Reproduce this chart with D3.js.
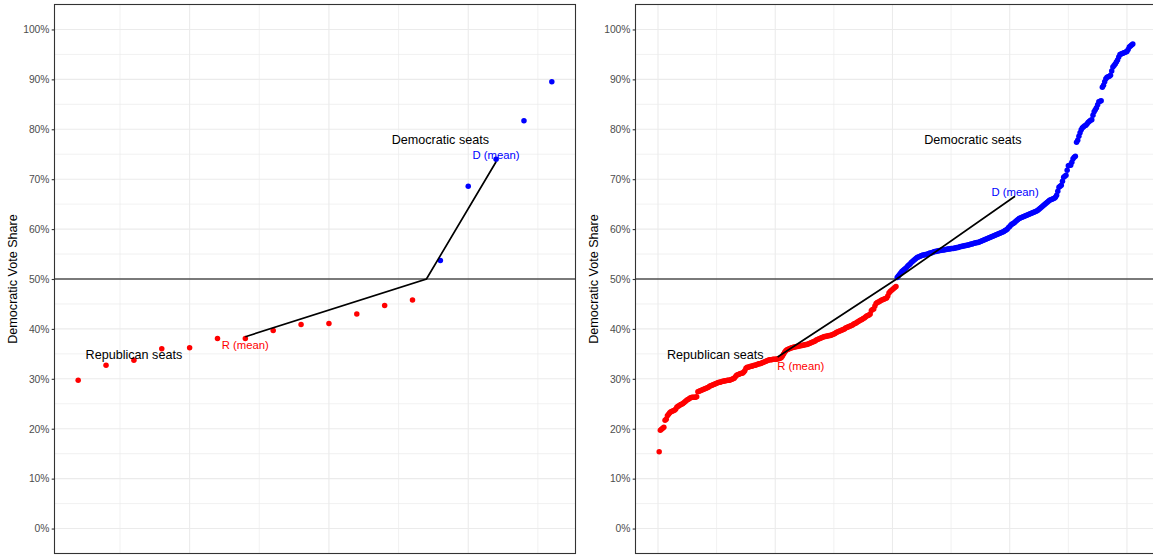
<!DOCTYPE html>
<html>
<head>
<meta charset="utf-8">
<script src="https://cdn.jsdelivr.net/npm/d3@7"></script>
<style>
  html, body { margin: 0; padding: 0; background: #ffffff; }
  svg { display: block; }
  text { font-family: "Liberation Sans", Arial, Helvetica, sans-serif; }
</style>
</head>
<body>
<svg id="chart" width="1153" height="556"></svg>
<script>
// ---------------- DATA ----------------
// Left panel: a small example with 18 seats (Democratic vote share, %)
const leftRep = [29.7, 32.7, 33.7, 36.0, 36.2, 38.1, 38.1, 39.7, 40.9, 41.1, 43.0, 44.7, 45.8];
const leftDem = [53.7, 68.6, 74.0, 81.7, 89.5];

// Right panel: all contested seats, sorted by Democratic vote share (%)
const rightRep = [
  15.4, 19.7, 19.9, 20.1, 20.3, 21.7, 21.9, 22.6, 22.9, 23.2,
  23.4, 23.5, 23.6, 23.7, 23.9, 24.3, 24.5, 24.6, 24.8, 24.9,
  25.0, 25.2, 25.4, 25.6, 25.8, 25.9, 26.1, 26.2, 26.3, 26.3,
  26.3, 26.3, 26.4, 27.4, 27.5, 27.6, 27.7, 27.8, 27.9, 28.0,
  28.1, 28.2, 28.3, 28.5, 28.6, 28.7, 28.8, 28.9, 29.0, 29.1,
  29.2, 29.3, 29.3, 29.4, 29.5, 29.5, 29.6, 29.6, 29.7, 29.7,
  29.7, 29.8, 29.9, 30.0, 30.1, 30.4, 30.7, 30.8, 30.9, 31.0,
  31.1, 31.1, 31.3, 31.6, 32.1, 32.3, 32.3, 32.4, 32.5, 32.5,
  32.6, 32.7, 32.7, 32.8, 32.9, 33.0, 33.0, 33.1, 33.2, 33.3,
  33.4, 33.5, 33.6, 33.7, 33.8, 33.8, 33.8, 33.9, 33.9, 33.9,
  33.9, 34.0, 34.0, 34.1, 34.2, 34.5, 34.9, 35.3, 35.6, 35.8,
  35.9, 36.0, 36.1, 36.2, 36.3, 36.4, 36.4, 36.5, 36.5, 36.6,
  36.6, 36.7, 36.7, 36.8, 36.8, 36.9, 36.9, 37.0, 37.1, 37.2,
  37.3, 37.4, 37.5, 37.6, 37.8, 37.9, 38.0, 38.1, 38.2, 38.3,
  38.4, 38.5, 38.5, 38.6, 38.6, 38.7, 38.7, 38.8, 38.9, 39.0,
  39.1, 39.3, 39.4, 39.5, 39.6, 39.7, 39.8, 39.9, 40.0, 40.2,
  40.3, 40.4, 40.5, 40.6, 40.7, 40.8, 41.0, 41.1, 41.2, 41.4,
  41.5, 41.7, 41.8, 41.9, 42.1, 42.2, 42.4, 42.6, 42.7, 42.8,
  43.0, 43.7, 43.9, 44.0, 44.6, 45.1, 45.3, 45.4, 45.5, 45.7,
  45.8, 45.9, 46.0, 46.1, 46.2, 46.6, 47.2, 47.5, 47.7, 47.9,
  48.1, 48.3, 48.5
];
const rightDem = [
  50.3, 50.6, 50.9, 51.2, 51.5, 51.7, 51.9, 52.1, 52.3, 52.6,
  52.8, 53.0, 53.3, 53.5, 53.7, 53.9, 54.1, 54.3, 54.4, 54.5,
  54.6, 54.7, 54.8, 54.8, 54.9, 54.9, 55.0, 55.1, 55.2, 55.2,
  55.3, 55.4, 55.5, 55.5, 55.6, 55.6, 55.7, 55.7, 55.8, 55.8,
  55.8, 55.9, 55.9, 56.0, 56.0, 56.0, 56.1, 56.1, 56.1, 56.2,
  56.2, 56.3, 56.3, 56.4, 56.5, 56.5, 56.6, 56.6, 56.7, 56.7,
  56.8, 56.8, 56.9, 57.0, 57.0, 57.1, 57.2, 57.2, 57.3, 57.3,
  57.4, 57.5, 57.6, 57.7, 57.8, 57.9, 58.0, 58.1, 58.2, 58.3,
  58.4, 58.5, 58.6, 58.7, 58.8, 58.9, 59.0, 59.1, 59.2, 59.3,
  59.4, 59.5, 59.7, 59.8, 60.0, 60.3, 60.5, 60.8, 61.0, 61.1,
  61.3, 61.5, 61.7, 61.9, 62.1, 62.2, 62.3, 62.4, 62.5, 62.6,
  62.7, 62.8, 62.9, 63.0, 63.1, 63.2, 63.3, 63.4, 63.5, 63.6,
  63.8, 64.0, 64.2, 64.4, 64.6, 64.8, 65.0, 65.2, 65.4, 65.6,
  65.8, 65.9, 66.0, 66.1, 66.2, 66.4, 66.8, 67.6, 68.4, 68.6,
  68.8, 69.6, 70.4, 70.6, 70.8, 71.8, 72.7, 72.8, 72.8, 73.4,
  74.1, 74.4, 74.6, 77.4, 77.8, 78.6, 79.3, 79.9, 80.3, 80.5,
  80.7, 80.8, 81.1, 81.4, 81.6, 81.8, 81.9, 82.8, 83.5, 83.9,
  84.3, 84.9, 85.5, 85.6, 85.7, 88.4, 88.8, 89.5, 90.1, 90.4,
  90.5, 90.6, 90.8, 91.7, 92.5, 92.8, 93.1, 93.5, 93.9, 94.5,
  95.0, 95.1, 95.2, 95.3, 95.4, 95.5, 95.6, 96.0, 96.5, 96.7,
  96.9, 97.1
];

// Axis ticks (percent)
const yTicks = [0, 10, 20, 30, 40, 50, 60, 70, 80, 90, 100];
const yMinor = [5, 15, 25, 35, 45, 55, 65, 75, 85, 95];
const leftXMajor = [5, 10, 15];
const leftXMinor = [2.5, 7.5, 12.5, 17.5];
const rightXMajor = [0, 100, 200, 300, 400];
const rightXMinor = [50, 150, 250, 350];

// Annotation texts and their anchor positions (seat rank, vote share %)
const labelTexts  = ["Republican seats", "Democratic seats", "R (mean)", "D (mean)"];
const labelColors = ["#000000", "#000000", "#FF0000", "#0000FF"];
const leftLabelX  = [3, 14, 7, 16];
const leftLabelY  = [34.8, 77.9, 36.7, 74.9];
const rightLabelX = [48.9, 268.6, 121.7, 304.6];
const rightLabelY = [34.8, 77.9, 32.5, 67.5];

const yTitle = "Democratic Vote Share";

// ---------------- DRAWING ----------------
const svg = d3.select("#chart");
const panelTop = 4.5, panelBottom = 553.5;
const y = d3.scaleLinear().domain([-5, 105]).range([panelBottom, panelTop]);

function drawPanel(opts) {
  const { x0, x1, rep, dem, xMajor, xMinor, labX, labY } = opts;
  const n = rep.length + dem.length;
  const pad = 0.05 * (n - 1);
  const x = d3.scaleLinear().domain([1 - pad, n + pad]).range([x0, x1]);
  const g = svg.append("g");

  const clipId = "clip" + Math.round(x0);
  svg.append("clipPath").attr("id", clipId)
    .append("rect").attr("x", x0).attr("y", panelTop).attr("width", x1 - x0).attr("height", panelBottom - panelTop);
  const pg = g.append("g").attr("clip-path", `url(#${clipId})`);

  // grid minor
  pg.selectAll(".ymin").data(yMinor).join("line")
    .attr("x1", x0).attr("x2", x1).attr("y1", d => y(d)).attr("y2", d => y(d))
    .attr("stroke", "#EBEBEB").attr("stroke-width", 0.7);
  pg.selectAll(".xmin").data(xMinor).join("line")
    .attr("x1", d => x(d)).attr("x2", d => x(d)).attr("y1", panelTop).attr("y2", panelBottom)
    .attr("stroke", "#EBEBEB").attr("stroke-width", 0.7);
  // grid major
  pg.selectAll(".ymaj").data(yTicks).join("line")
    .attr("x1", x0).attr("x2", x1).attr("y1", d => y(d)).attr("y2", d => y(d))
    .attr("stroke", "#EBEBEB").attr("stroke-width", 1.1);
  pg.selectAll(".xmaj").data(xMajor).join("line")
    .attr("x1", d => x(d)).attr("x2", d => x(d)).attr("y1", panelTop).attr("y2", panelBottom)
    .attr("stroke", "#EBEBEB").attr("stroke-width", 1.1);

  // 50% line
  pg.append("line").attr("x1", x0).attr("x2", x1).attr("y1", y(50)).attr("y2", y(50))
    .attr("stroke", "#000").attr("stroke-width", 1.1);

  // points
  const pts = rep.map((v, i) => ({ i: i + 1, v, c: "#FF0000" }))
    .concat(dem.map((v, i) => ({ i: rep.length + i + 1, v, c: "#0000FF" })));
  pg.selectAll(".pt").data(pts).join("circle")
    .attr("cx", d => x(d.i)).attr("cy", d => y(d.v)).attr("r", 2.75)
    .attr("fill", d => d.c);

  // mean segments
  const repMid = (1 + rep.length) / 2;
  const demMid = rep.length + (1 + dem.length) / 2;
  const segs = [[repMid, d3.mean(rep)], [rep.length + 0.5, 50], [demMid, d3.mean(dem)]];
  pg.append("path").datum(segs)
    .attr("d", d3.line().x(d => x(d[0])).y(d => y(d[1])))
    .attr("fill", "none").attr("stroke", "#000").attr("stroke-width", 1.7);

  // labels
  labelTexts.forEach((t, k) => {
    pg.append("text").attr("x", x(labX[k])).attr("y", y(labY[k])).attr("dy", "0.35em")
      .attr("text-anchor", "middle")
      .attr("font-size", k < 2 ? 12.6 : 11.3)
      .attr("fill", labelColors[k]).text(t);
  });

  // border
  g.append("rect").attr("x", x0).attr("y", panelTop).attr("width", x1 - x0).attr("height", panelBottom - panelTop)
    .attr("fill", "none").attr("stroke", "#333333").attr("stroke-width", 1.1);

  // y axis
  const ax = g.append("g").attr("transform", `translate(${x0},0)`)
    .call(d3.axisLeft(y).tickValues(yTicks).tickFormat(d => d + "%").tickSize(2.8).tickPadding(2.2));
  ax.select(".domain").remove();
  ax.selectAll(".tick line").attr("stroke", "#333333").attr("stroke-width", 1.1);
  ax.selectAll(".tick text").attr("fill", "#4D4D4D").attr("font-size", 10.3)
    .attr("font-family", '"Liberation Sans", Arial, sans-serif');

  // y title
  g.append("text")
    .attr("transform", `translate(${x0 - 41.6},${(panelTop + panelBottom) / 2}) rotate(-90)`)
    .attr("text-anchor", "middle").attr("dy", "0.35em")
    .attr("font-size", 12.6).attr("fill", "#000").text(yTitle);
}

drawPanel({ x0: 54.5, x1: 575.5, rep: leftRep, dem: leftDem,
  xMajor: leftXMajor, xMinor: leftXMinor, labX: leftLabelX, labY: leftLabelY });
drawPanel({ x0: 635.5, x1: 1156.5, rep: rightRep, dem: rightDem,
  xMajor: rightXMajor, xMinor: rightXMinor, labX: rightLabelX, labY: rightLabelY });
</script>
</body>
</html>
